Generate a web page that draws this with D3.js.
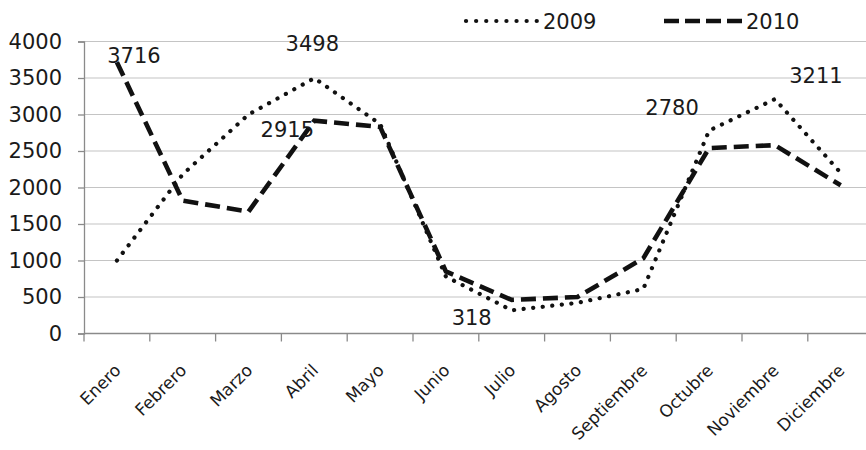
<!DOCTYPE html>
<html>
<head>
<meta charset="utf-8">
<script src="https://cdn.jsdelivr.net/npm/d3@7"></script>
<style>
  html, body { margin: 0; padding: 0; background: #fff; }
  svg { display: block; }
  text { font-family: "DejaVu Sans", sans-serif; fill: #1a1a1a; }
</style>
</head>
<body>
<svg id="chart" width="866" height="450"></svg>
<script>
const months = ["Enero","Febrero","Marzo","Abril","Mayo","Junio","Julio","Agosto","Septiembre","Octubre","Noviembre","Diciembre"];
const values2009 = [1000, 2180, 3000, 3498, 2870, 780, 318, 420, 610, 2780, 3211, 2200];
const values2010 = [3716, 1820, 1670, 2915, 2830, 850, 460, 500, 1030, 2540, 2580, 2030];
const yTicks = [0, 500, 1000, 1500, 2000, 2500, 3000, 3500, 4000];
const seriesNames = ["2009", "2010"];
// data labels shown: [series index, month index]
const shownLabels = [[1, 0], [0, 3], [1, 3], [0, 6], [0, 9], [0, 10]];

const svg = d3.select("#chart");
const left = 84, step = 65.8;
const x = d3.scaleBand().domain(months).range([left, left + step * months.length]).padding(0);
const y = d3.scaleLinear().domain([0, 4000]).range([333.5, 41.5]);
const cx = m => x(m) + x.bandwidth() / 2;

// gridlines
svg.append("g").selectAll("line").data(yTicks.filter(d => d > 0)).join("line")
  .attr("x1", left).attr("x2", 866)
  .attr("y1", d => y(d)).attr("y2", d => y(d))
  .attr("stroke", "#c4c4c4").attr("stroke-width", 1.2);

// y axis
const yAxis = d3.axisLeft(y).tickValues(yTicks).tickFormat(d3.format("d")).tickSize(6).tickPadding(16);
const gy = svg.append("g").attr("transform", `translate(${left},0)`).call(yAxis);
gy.select(".domain").attr("stroke", "#8a8a8a").attr("stroke-width", 1.3);
gy.selectAll(".tick line").attr("stroke", "#8a8a8a").attr("stroke-width", 1.3);
gy.selectAll(".tick text").attr("font-size", 21).attr("font-family", "DejaVu Sans").attr("fill", "#1a1a1a");

// x axis line
svg.append("line").attr("x1", left).attr("x2", 866).attr("y1", y(0)).attr("y2", y(0))
  .attr("stroke", "#8a8a8a").attr("stroke-width", 1.3);
// x tick marks at band boundaries
svg.append("g").selectAll("line").data(months).join("line")
  .attr("x1", d => x(d)).attr("x2", d => x(d))
  .attr("y1", y(0)).attr("y2", y(0) + 8)
  .attr("stroke", "#8a8a8a").attr("stroke-width", 1.3);
// x labels
svg.append("g").selectAll("text").data(months).join("text")
  .attr("transform", d => `translate(${cx(d) + 5},${y(0) + 38}) rotate(-45)`)
  .attr("text-anchor", "end")
  .attr("font-size", 17)
  .text(d => d);

// lines
const line = d3.line().x((d, i) => cx(months[i])).y(d => y(d));
svg.append("path").datum(values2009).attr("d", line)
  .attr("fill", "none").attr("stroke", "#111").attr("stroke-width", 4.2)
  .attr("stroke-linecap", "round").attr("stroke-dasharray", "0.1 9.5");
svg.append("path").datum(values2010).attr("d", line)
  .attr("fill", "none").attr("stroke", "#111").attr("stroke-width", 4.6)
  .attr("stroke-linecap", "butt").attr("stroke-dasharray", "15 7");

// data labels
const allSeries = [values2009, values2010];
const labelOffset = {
  "1-0": [17, 1], "0-3": [-2, -27], "1-3": [-27, 16],
  "0-6": [-40, 15], "0-9": [-37, -16], "0-10": [41, -16]
};
svg.append("g").selectAll("text").data(shownLabels).join("text")
  .attr("x", d => cx(months[d[1]]) + labelOffset[d[0] + "-" + d[1]][0])
  .attr("y", d => y(allSeries[d[0]][d[1]]) + labelOffset[d[0] + "-" + d[1]][1])
  .attr("text-anchor", "middle").attr("font-size", 21)
  .text(d => allSeries[d[0]][d[1]]);

// legend
const lg = svg.append("g");
lg.append("line").attr("x1", 466).attr("x2", 537).attr("y1", 21).attr("y2", 21)
  .attr("stroke", "#111").attr("stroke-width", 4.2).attr("stroke-linecap", "round")
  .attr("stroke-dasharray", "0.1 10");
lg.append("text").attr("x", 543).attr("y", 29).attr("font-size", 21).text(seriesNames[0]);
lg.append("line").attr("x1", 664).attr("x2", 744).attr("y1", 21).attr("y2", 21)
  .attr("stroke", "#111").attr("stroke-width", 4.6).attr("stroke-dasharray", "15 6");
lg.append("text").attr("x", 746).attr("y", 29).attr("font-size", 21).text(seriesNames[1]);
</script>
</body>
</html>
